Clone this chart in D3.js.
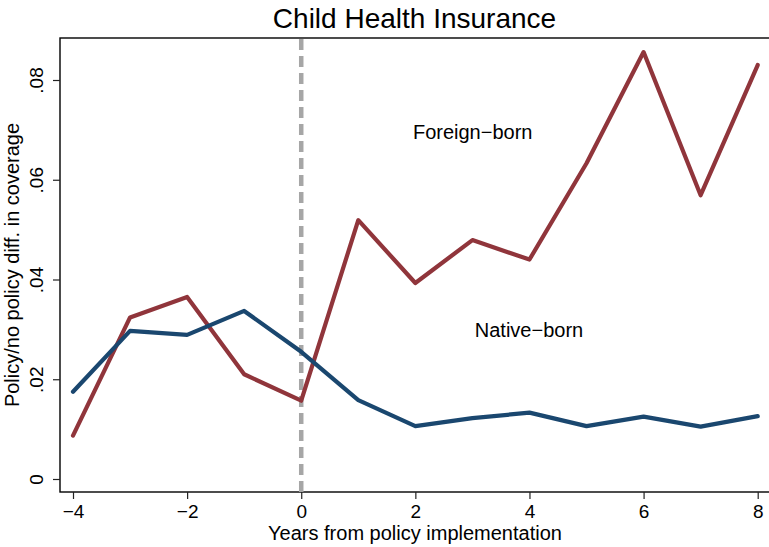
<!DOCTYPE html>
<html>
<head>
<meta charset="utf-8">
<script src="https://cdn.jsdelivr.net/npm/d3@7"></script>
<style>
  html, body { margin: 0; padding: 0; background: #fff; }
  svg { display: block; font-family: "Liberation Sans", Arial, Helvetica, sans-serif; }
</style>
</head>
<body>
<svg id="chart" width="769" height="547"></svg>
<script>
// Event-time coefficients: years relative to policy implementation
const years = [-4, -3, -2, -1, 0, 1, 2, 3, 4, 5, 6, 7, 8];
const foreignBorn = [0.0087, 0.0324, 0.0365, 0.0210, 0.0157, 0.0519, 0.0393, 0.0479, 0.0440, 0.0633, 0.0856, 0.0569, 0.0830];
const nativeBorn  = [0.0175, 0.0297, 0.0289, 0.0337, 0.0255, 0.0158, 0.0106, 0.0122, 0.0133, 0.0106, 0.0125, 0.0105, 0.0126];
const xTicks = [-4, -2, 0, 2, 4, 6, 8];
const yTicks = [0, 0.02, 0.04, 0.06, 0.08];
const yTickLabels = ["0", ".02", ".04", ".06", ".08"];

const svg = d3.select("#chart");
const frame = { left: 60, top: 38, bottom: 492 };

const x = d3.scaleLinear().domain([-4, 8]).range([73, 757.7]);
const y = d3.scaleLinear().domain([0, 0.08]).range([479, 80]);

// Title
svg.append("text")
  .attr("x", 414.5).attr("y", 28)
  .attr("text-anchor", "middle")
  .attr("font-size", 28)
  .attr("fill", "#000")
  .text("Child Health Insurance");

// Plot region border (right edge runs past the canvas)
svg.append("rect")
  .attr("x", frame.left).attr("y", frame.top)
  .attr("width", 720).attr("height", frame.bottom - frame.top)
  .attr("fill", "none")
  .attr("stroke", "#000")
  .attr("stroke-width", 1.4);

// Policy implementation marker
svg.append("line")
  .attr("x1", x(0)).attr("x2", x(0))
  .attr("y1", frame.top + 1).attr("y2", frame.bottom)
  .attr("stroke", "#a6a6a6")
  .attr("stroke-width", 4.5)
  .attr("stroke-dasharray", "11,6");

// Y axis
const yAxis = svg.append("g")
  .attr("transform", `translate(${frame.left},0)`)
  .call(d3.axisLeft(y).tickValues(yTicks)
    .tickFormat((d, i) => yTickLabels[i]).tickSize(7));
yAxis.select(".domain").remove();
yAxis.selectAll(".tick line").attr("stroke", "#222").attr("stroke-width", 1.2);
yAxis.selectAll(".tick text")
  .attr("transform", "rotate(-90)")
  .attr("x", 0).attr("y", -17).attr("dy", 0)
  .attr("text-anchor", "middle")
  .attr("font-size", 19)
  .attr("font-family", "Liberation Sans, Arial, sans-serif")
  .attr("fill", "#000");

// X axis
const xAxis = svg.append("g")
  .attr("transform", `translate(0,${frame.bottom})`)
  .call(d3.axisBottom(x).tickValues(xTicks)
    .tickFormat(d => d < 0 ? "\u2212" + Math.abs(d) : String(d)).tickSize(7));
xAxis.select(".domain").remove();
xAxis.selectAll(".tick line").attr("stroke", "#222").attr("stroke-width", 1.2);
xAxis.selectAll(".tick text")
  .attr("y", 13)
  .attr("font-size", 19)
  .attr("font-family", "Liberation Sans, Arial, sans-serif")
  .attr("fill", "#000");

// Axis titles
svg.append("text")
  .attr("x", 415).attr("y", 540)
  .attr("text-anchor", "middle")
  .attr("font-size", 20)
  .attr("fill", "#000")
  .text("Years from policy implementation");

svg.append("text")
  .attr("transform", "translate(18.5,265) rotate(-90)")
  .attr("text-anchor", "middle")
  .attr("font-size", 20)
  .attr("fill", "#000")
  .text("Policy/no policy diff. in coverage");

// Series lines
const line = d3.line()
  .x(d => x(d[0]))
  .y(d => y(d[1]));

const series = [
  { values: foreignBorn, color: "#90353b" },
  { values: nativeBorn, color: "#1a476f" }
];

series.forEach(s => {
  svg.append("path")
    .datum(years.map((yr, i) => [yr, s.values[i]]))
    .attr("fill", "none")
    .attr("stroke", s.color)
    .attr("stroke-width", 4.2)
    .attr("stroke-linejoin", "round")
    .attr("stroke-linecap", "round")
    .attr("d", line);
});

// Series labels
svg.append("text")
  .attr("x", 472.7).attr("y", 139)
  .attr("text-anchor", "middle")
  .attr("font-size", 20)
  .attr("fill", "#000")
  .text("Foreign\u2212born");

svg.append("text")
  .attr("x", 529).attr("y", 336.5)
  .attr("text-anchor", "middle")
  .attr("font-size", 20)
  .attr("fill", "#000")
  .text("Native\u2212born");
</script>
</body>
</html>
